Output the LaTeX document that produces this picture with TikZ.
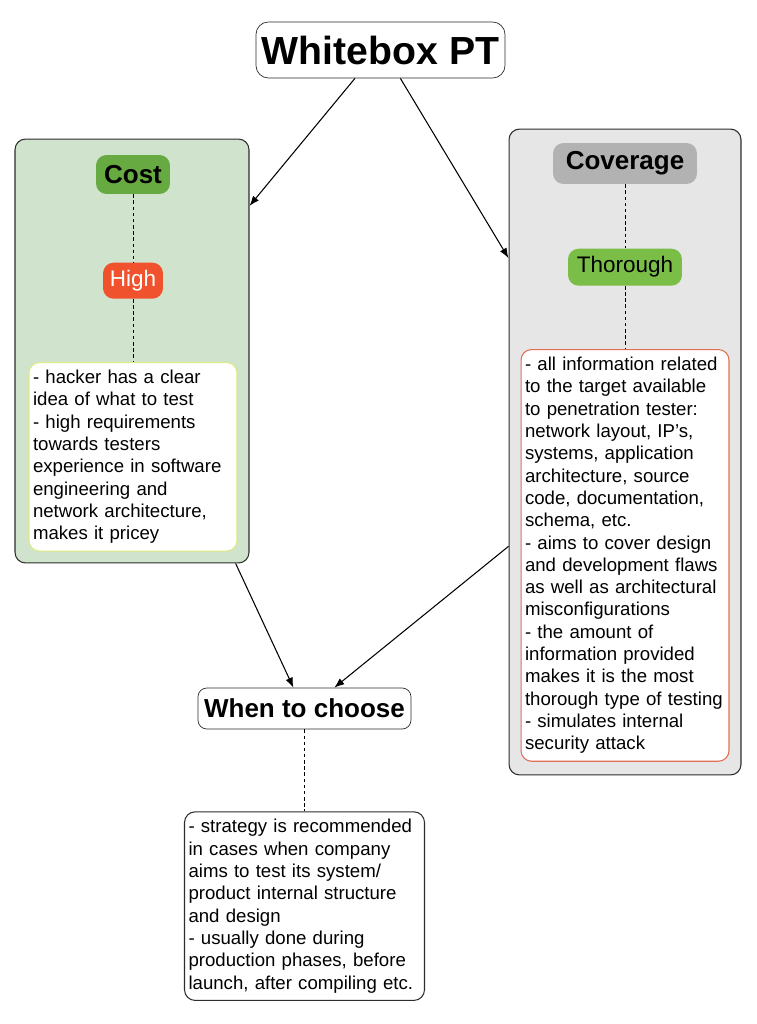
\documentclass[tikz,border=0pt]{standalone}
\usepackage{fontspec}
\setmainfont{Liberation Sans}
\usepackage{tikz}
\usetikzlibrary{
  arrows.meta,
  positioning
}
\definecolor{panelgreen}{RGB}{208,228,205}
\definecolor{panelgray}{RGB}{230,230,230}
\definecolor{costgreen}{RGB}{103,170,66}
\definecolor{thorgreen}{RGB}{122,190,72}
\definecolor{highred}{RGB}{240,82,45}
\definecolor{headgray}{RGB}{178,178,178}
\definecolor{noteyellow}{RGB}{222,234,130}
\definecolor{notered}{RGB}{225,110,85}
\definecolor{edgegray}{RGB}{45,45,45}

\begin{document}
\begin{tikzpicture}[
  x=0.02cm, y=-0.02cm,
  node distance=1.3cm,
  panel/.style={
    rounded corners=6pt,
    draw=edgegray,
    line width=0.6pt
  },
  head/.style={
    rounded corners=5pt,
    draw=edgegray,
    fill=white,
    inner sep=0pt,
    font=\fontsize{14.8}{17}\selectfont\bfseries
  },
  tag/.style={
    rounded corners=6pt,
    inner sep=0pt,
    font=\fontsize{12.8}{15}\selectfont
  },
  note/.style={
    rounded corners=6pt,
    fill=white,
    line width=0.6pt,
    align=left,
    text width=4cm,
    inner xsep=0.08cm,
    inner ysep=0.15cm,
    font=\fontsize{10.6}{12.7}\selectfont
  },
  link/.style={dash pattern=on 2pt off 1.5pt, line width=0.5pt},
  arr/.style={-{Latex[length=2mm]}, line width=0.6pt}
]
\fill[white] (0,0) rectangle (757,1024);
\useasboundingbox (0,0) rectangle (757,1024);

% title
\node[head, font=\fontsize{22.3}{26}\selectfont\bfseries, minimum width=4.98cm, minimum height=1.12cm, rounded corners=7pt] (title) at (380.5,50) {Whitebox PT};

% cost panel
\node[panel, fill=panelgreen, minimum width=4.68cm, minimum height=8.48cm] (costpanel) at (132,351) {};
\node[tag, fill=costgreen, font=\fontsize{14.8}{17}\selectfont\bfseries, minimum width=1.48cm, minimum height=0.78cm] (cost) at (133,174.5) {Cost};
\node[tag, fill=highred, text=white, minimum width=1.2cm, minimum height=0.72cm, below=1.36cm of cost] (high) {High};
\node[note, draw=noteyellow, below=1.26cm of high] (costnote) {- hacker has a clear\\
idea of what to test\\
- high requirements\\
towards testers\\
experience in software\\
engineering and\\
network architecture,\\
makes it pricey};

% coverage panel
\node[panel, fill=panelgray, minimum width=4.64cm, minimum height=12.92cm] (covpanel) at (625,452) {};
\node[tag, fill=headgray, font=\fontsize{14.8}{17}\selectfont\bfseries, minimum width=2.88cm, minimum height=0.82cm] (coverage) at (625,163.5) {Coverage};
\node[tag, fill=thorgreen, minimum width=2.28cm, minimum height=0.74cm, below=1.28cm of coverage] (thorough) {Thorough};
\node[note, draw=notered, below=1.26cm of thorough] (covnote) {- all information related\\
to the target available\\
to penetration tester:\\
network layout, IP’s,\\
systems, application\\
architecture, source\\
code, documentation,\\
schema, etc.\\
- aims to cover design\\
and development flaws\\
as well as architectural\\
misconfigurations\\
- the amount of\\
information provided\\
makes it is the most\\
thorough type of testing\\
- simulates internal\\
security attack};

% when to choose
\node[head, minimum width=4.26cm, minimum height=0.82cm] (when) at (304.5,708.5) {When to choose};
\node[note, draw=edgegray, text width=4.64cm, below=1.64cm of when] (whennote) {- strategy is recommended\\
in cases when company\\
aims to test its system/\\
product internal structure\\
and design\\
- usually done during\\
production phases, before\\
launch, after compiling etc.};

\draw[link] (cost) -- (high);
\draw[link] (high) -- (costnote);
\draw[link] (coverage) -- (thorough);
\draw[link] (thorough) -- (covnote);
\draw[link] (when) -- (whennote);

\draw[arr] (title.228) -- (costpanel.51);
\draw[arr] (title.305) -- (covpanel.121);
\draw[arr] (costpanel.296) -- (when.118);
\draw[arr] (covpanel.219) -- (when.35);
\end{tikzpicture}
\end{document}
